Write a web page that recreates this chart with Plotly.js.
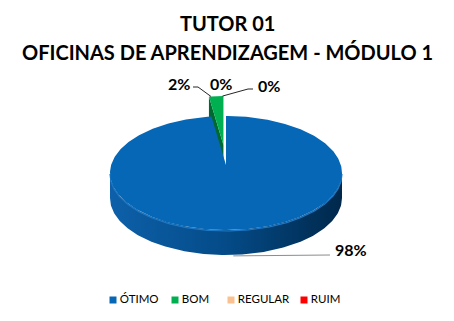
<!DOCTYPE html>
<html>
<head>
<meta charset="utf-8">
<script src="https://cdn.plot.ly/plotly-3.0.1.min.js"></script>
<style>
  html, body { margin: 0; padding: 0; background: #ffffff; }
  #chart { width: 454px; height: 321px; }
</style>
</head>
<body>
<div id="chart"></div>
<script>
// Survey results for the tutor's workshop module
const titleLines = ['TUTOR 01', 'OFICINAS DE APRENDIZAGEM - MÓDULO 1'];
const categories = ['ÓTIMO', 'BOM', 'REGULAR', 'RUIM'];
const values = [98, 2, 0, 0];
const topColors = ['#0567B5', '#00B050', '#FAC090', '#FF0000'];
const sideColors = ['#034a86', '#00692F', '#C89060', '#B00000'];
const explode = [0, 0.35, 0, 0];

// 3-D pie geometry in pixel space (axes span the whole page)
const W = 454, H = 321;
const CX = 226, CY = 173, RX = 116, RY = 57, DEPTH = 25, LIFT = 8;

function pt(theta, r, cx, cy) {
  const a = theta * Math.PI / 180;
  return [cx + RX * r * Math.sin(a), cy - RY * r * Math.cos(a)];
}
function arc(a0, a1, cx, cy) {
  const xs = [], ys = [];
  const n = Math.max(2, Math.ceil(Math.abs(a1 - a0)));
  for (let i = 0; i <= n; i++) {
    const p = pt(a0 + (a1 - a0) * i / n, 1, cx, cy);
    xs.push(p[0]); ys.push(p[1]);
  }
  return [xs, ys];
}

const total = values.reduce((s, v) => s + v, 0);
const slices = [];
let acc = 0;
values.forEach((v, i) => {
  const a0 = acc / total * 360;
  acc += v;
  const a1 = acc / total * 360;
  const mid = (a0 + a1) / 2;
  const m = mid * Math.PI / 180;
  const dx = explode[i] * RX * Math.sin(m);
  const dy = -explode[i] * RY * Math.cos(m);
  slices.push({ i, v, a0, a1, mid, cx: CX + dx, cy: CY + dy });
});

const sideTraces = [], faceTraces = [], topTraces = [];
slices.forEach(s => {
  if (s.v <= 0) return;
  // front wall (visible between 90° and 270° measured clockwise from 12 o'clock)
  const f0 = Math.max(s.a0, 90), f1 = Math.min(s.a1, 270);
  if (f1 > f0) {
    const [tx, ty] = arc(f0, f1, s.cx, s.cy);
    const bx = tx.slice().reverse(), by = ty.slice().reverse().map(y => y + DEPTH);
    sideTraces.push({
      type: 'scatter', mode: 'lines', x: tx.concat(bx), y: ty.concat(by),
      fill: 'toself', line: { width: 0 }, hoverinfo: 'skip', showlegend: false,
      fillgradient: {
        type: 'horizontal', start: CX - RX, stop: CX + RX,
        colorscale: [[0, '#0d60a9'], [0.5, '#044b88'], [1, '#00284b']]
      }
    });
    sideTraces.push({
      type: 'scatter', mode: 'lines', x: tx, y: ty.map(y => y + 1),
      line: { width: 1.2, color: '#1f78c4' }, hoverinfo: 'skip', showlegend: false
    });
  }
  // radial walls of a pulled-out slice
  if (explode[s.i] > 0) {
    const ax = s.cx, ay = s.cy - LIFT;
    [s.a0, s.a1].forEach(a => {
      const o = pt(a, 1, s.cx, s.cy);
      faceTraces.push({
        type: 'scatter', mode: 'lines',
        x: [ax, o[0], o[0], ax], y: [ay, o[1], o[1] + DEPTH, ay + DEPTH],
        fill: 'toself', fillcolor: sideColors[s.i], line: { width: 0 },
        hoverinfo: 'skip', showlegend: false
      });
    });
  }
  // top face
  const [tx, ty] = arc(s.a0, s.a1, s.cx, s.cy);
  topTraces.push({
    type: 'scatter', mode: 'lines',
    x: [s.cx].concat(tx, [s.cx]), y: [s.cy - LIFT].concat(ty, [s.cy - LIFT]),
    fill: 'toself', fillcolor: topColors[s.i], line: { width: 0 },
    name: categories[s.i], hoverinfo: 'name', showlegend: false,
    explodedSlice: explode[s.i] > 0
  });
});
// the pulled-out slice sits above the main one
const orderedTops = topTraces.filter(t => !t.explodedSlice)
  .concat(topTraces.filter(t => t.explodedSlice));
orderedTops.forEach(t => delete t.explodedSlice);

// legend row
const LEGEND_X = [113, 175, 231, 304];
const LEGEND_Y = 300;
const legendTrace = {
  type: 'scatter', mode: 'markers+text',
  x: LEGEND_X, y: LEGEND_X.map(() => LEGEND_Y),
  marker: { symbol: 'square', size: 7, color: topColors, line: { width: 0 } },
  text: categories.map(c => '\u2009' + c), textposition: 'middle right',
  textfont: { family: 'Lato, sans-serif', size: 11.5, color: '#000000' },
  hoverinfo: 'skip', showlegend: false, cliponaxis: false
};

// percentage labels
const LABEL_POS = [
  { x: 333, y: 249, anchor: 'left' },
  { x: 192, y: 83, anchor: 'right' },
  { x: 221, y: 83, anchor: 'center' },
  { x: 256, y: 85, anchor: 'left' }
];
const annotations = values.map((v, i) => ({
  text: v + '%', x: LABEL_POS[i].x, y: LABEL_POS[i].y, xref: 'x', yref: 'y',
  xanchor: LABEL_POS[i].anchor, yanchor: 'middle', showarrow: false,
  font: { family: 'Lato, sans-serif', size: 16, color: '#000000', weight: 'bold' }
}));

// two-line heading
const TITLE_Y = [23, 52];
titleLines.forEach((t, i) => annotations.push({
  text: t, x: W / 2, y: TITLE_Y[i], xref: 'x', yref: 'y',
  xanchor: 'center', yanchor: 'middle', showarrow: false,
  font: { family: 'Lato, sans-serif', size: 20, color: '#000000', weight: 'bold' }
}));

// leader lines from labels to their slices
const main = slices[0], bom = slices[1];
const mainPt = pt(main.mid, 1, main.cx, main.cy);
const bomPt = pt(bom.a0 + 1, 1, bom.cx, bom.cy);
const zeroPt = pt(bom.a1 - 0.5, 1, bom.cx, bom.cy);
const shapes = [
  { type: 'path', xref: 'x', yref: 'y',
    path: `M${mainPt[0]},${mainPt[1] + DEPTH + 1} L330,255`,
    line: { color: '#8c8c8c', width: 1 } },
  { type: 'path', xref: 'x', yref: 'y',
    path: `M193,87 L198,87 L${bomPt[0]},${bomPt[1]}`,
    line: { color: '#262626', width: 1 } },
  { type: 'path', xref: 'x', yref: 'y',
    path: `M253,89 L248,89 L${zeroPt[0]},${zeroPt[1]}`,
    line: { color: '#262626', width: 1 } }
];

const layout = {
  width: W, height: H,
  margin: { l: 0, r: 0, t: 0, b: 0 },
  paper_bgcolor: '#ffffff', plot_bgcolor: '#ffffff',
  xaxis: { range: [0, W], visible: false, fixedrange: true },
  yaxis: { range: [H, 0], visible: false, fixedrange: true },
  showlegend: false,
  annotations, shapes
};

Plotly.newPlot('chart',
  sideTraces.concat(faceTraces, orderedTops, [legendTrace]),
  layout, { displayModeBar: false, staticPlot: true });
</script>
</body>
</html>
